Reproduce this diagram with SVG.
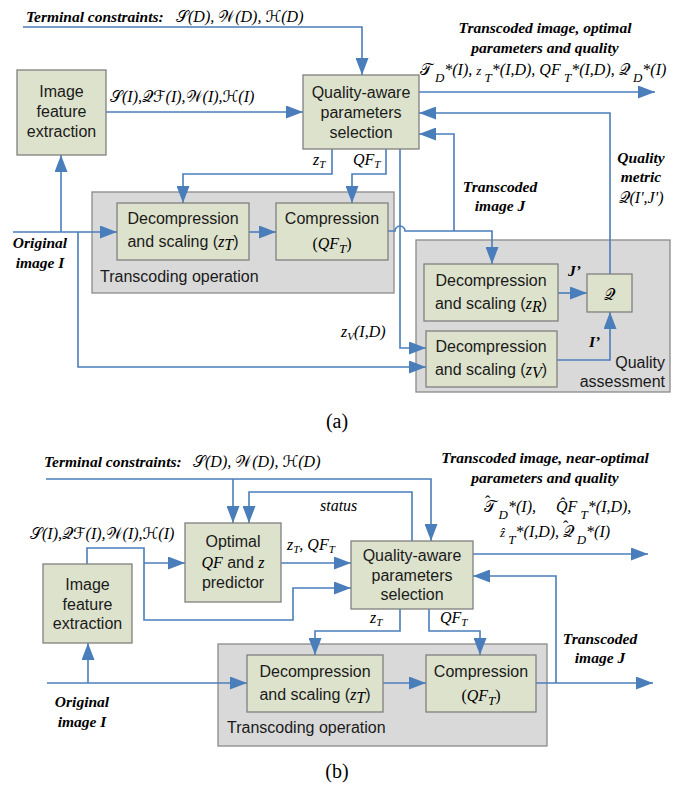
<svg xmlns="http://www.w3.org/2000/svg" width="683" height="787" viewBox="0 0 683 787">
<defs>
<style>
.box{fill:#dde2cc;stroke:#808080;stroke-width:1.3}
.grp{fill:#d9d9d9;stroke:#8a8a8a;stroke-width:1.3}
.ln{fill:none;stroke:#4a7ebb;stroke-width:1.6}
.ar{marker-end:url(#ah)}
.t{font-family:"Liberation Sans",Arial,sans-serif;font-size:16px;fill:#1a1a1a;text-anchor:middle}
.tl{font-family:"Liberation Sans",Arial,sans-serif;font-size:16px;fill:#1a1a1a}
.bi{font-family:"Liberation Serif","Times New Roman",serif;font-style:italic;font-weight:bold;font-size:15.5px;fill:#000}
.m{font-family:"Liberation Serif","Times New Roman",serif;font-style:italic;font-size:16px;fill:#000}
.c{font-family:"DejaVu Serif","DejaVu Sans","Noto Sans",serif;font-style:normal}
.r{font-style:normal}
.cap{font-family:"Liberation Serif","Times New Roman",serif;font-size:20px;fill:#000;text-anchor:middle}
</style>
<marker id="ah" markerWidth="17" markerHeight="13" refX="17" refY="6.5" orient="auto" markerUnits="userSpaceOnUse">
<path d="M0,0 L17,6.5 L0,13 z" fill="#4a7ebb"/>
</marker>
</defs>

<!-- ============ (a) ============ -->
<g id="a-transcoding-group">
<rect class="grp" x="92" y="192" width="302" height="101"/>
<text class="tl" x="100" y="282">Transcoding operation</text>
</g>
<g id="a-quality-group">
<rect class="grp" x="416" y="240" width="254" height="152"/>
<text class="tl" x="665" y="368" text-anchor="end">Quality</text>
<text class="tl" x="665" y="387" text-anchor="end">assessment</text>
</g>

<g id="a-connectors">
<path class="ln ar" d="M23,27 H362 V75"/>
<path class="ln ar" d="M106,112 H303"/>
<path class="ln ar" d="M419,92 H655"/>
<path class="ln ar" d="M610,274 V113 H419"/>
<path class="ln ar" d="M388,231 H395 A5,5 0 0 1 405,231 H492 V264"/>
<path class="ln ar" d="M454,231 V134 H419"/>
<path class="ln ar" d="M332,149 V174 H183 V203"/>
<path class="ln ar" d="M386,149 V174 H352 V203"/>
<path class="ln ar" d="M400,149 V348 H426"/>
<path class="ln ar" d="M13,232 H117"/>
<path class="ln ar" d="M61,232 V155"/>
<path class="ln ar" d="M78,232 V367 H426"/>
<path class="ln ar" d="M249,232 H276"/>
<path class="ln ar" d="M558,293 H587"/>
<path class="ln ar" d="M557,360 H610 V312"/>
</g>

<g id="a-feature">
<rect class="box" x="17" y="70" width="89" height="85"/>
<text class="t" x="61.5" y="97">Image</text>
<text class="t" x="61.5" y="117">feature</text>
<text class="t" x="61.5" y="137">extraction</text>
</g>
<g id="a-qaps">
<rect class="box" x="303" y="75" width="116" height="74"/>
<text class="t" x="361" y="98">Quality-aware</text>
<text class="t" x="361" y="118">parameters</text>
<text class="t" x="361" y="138">selection</text>
</g>
<g id="a-decomp">
<rect class="box" x="117" y="203" width="132" height="57"/>
<text class="t" x="183" y="224">Decompression</text>
<text class="t" x="183" y="247">and scaling (<tspan class="m">z</tspan><tspan class="m" font-size="11" dy="3">T</tspan><tspan dy="-3">)</tspan></text>
</g>
<g id="a-comp">
<rect class="box" x="276" y="203" width="112" height="57"/>
<text class="t" x="332" y="224">Compression</text>
<text class="m" x="332" y="249" font-size="21" text-anchor="middle"><tspan class="r">(</tspan>QF<tspan font-size="13" dy="4">T</tspan><tspan class="r" dy="-4">)</tspan></text>
</g>
<g id="a-decomp-r">
<rect class="box" x="424" y="264" width="134" height="57"/>
<text class="t" x="491" y="286">Decompression</text>
<text class="t" x="491" y="309">and scaling (<tspan class="m">z</tspan><tspan class="m" font-size="11" dy="3">R</tspan><tspan dy="-3">)</tspan></text>
</g>
<g id="a-decomp-v">
<rect class="box" x="426" y="331" width="131" height="56"/>
<text class="t" x="491" y="352">Decompression</text>
<text class="t" x="491" y="375">and scaling (<tspan class="m">z</tspan><tspan class="m" font-size="11" dy="3">V</tspan><tspan dy="-3">)</tspan></text>
</g>
<g id="a-q">
<rect class="box" x="587" y="274" width="45" height="38"/>
<text class="m" x="609.5" y="300" font-size="21" text-anchor="middle"><tspan class="c">𝒬</tspan></text>
</g>

<g id="a-labels">
<text class="bi" x="26" y="22">Terminal constraints:</text>
<text class="m" x="176" y="22"><tspan class="c">𝒮</tspan>(D), <tspan class="c">𝒲</tspan>(D), <tspan class="c">ℋ</tspan>(D)</text>
<text class="m" x="110" y="102"><tspan class="c">𝒮</tspan>(I),<tspan class="c">𝒬ℱ</tspan>(I),<tspan class="c">𝒲</tspan>(I),<tspan class="c">ℋ</tspan>(I)</text>
<text class="bi" x="545" y="33" text-anchor="middle">Transcoded image, optimal</text>
<text class="bi" x="545" y="53" text-anchor="middle">parameters and quality</text>
<text class="m" x="543" y="75" text-anchor="middle"><tspan class="c">𝒯</tspan><tspan dy="7" font-size="13"> D</tspan><tspan dy="-7">*(I), </tspan><tspan font-size="13">z</tspan><tspan dy="7" font-size="13"> T</tspan><tspan dy="-7">*(I,D), QF</tspan><tspan dy="7" font-size="13"> T</tspan><tspan dy="-7">*(I,D), </tspan><tspan class="c">𝒬</tspan><tspan dy="7" font-size="13"> D</tspan><tspan dy="-7">*(I)</tspan></text>
<text class="bi" x="641" y="163" text-anchor="middle">Quality</text>
<text class="bi" x="641" y="182" text-anchor="middle">metric</text>
<text class="m" x="641" y="203" text-anchor="middle"><tspan class="c">𝒬</tspan>(I',J')</text>
<text class="bi" x="500" y="192" text-anchor="middle">Transcoded</text>
<text class="bi" x="500" y="211" text-anchor="middle">image J</text>
<text class="m" x="313" y="165">z<tspan font-size="11" dy="3">T</tspan></text>
<text class="m" x="353" y="165">QF<tspan font-size="11" dy="3">T</tspan></text>
<text class="m" x="341" y="337">z<tspan font-size="11" dy="3">V</tspan><tspan dy="-3">(I,D)</tspan></text>
<text class="bi" x="40" y="248" text-anchor="middle">Original</text>
<text class="bi" x="40" y="268" text-anchor="middle">image I</text>
<text class="bi" x="568" y="276">J’</text>
<text class="bi" x="589" y="347">I’</text>
<text class="cap" x="337" y="428">(a)</text>
</g>

<!-- ============ (b) ============ -->
<g id="b-transcoding-group">
<rect class="grp" x="218" y="644" width="329" height="102"/>
<text class="tl" x="227" y="733">Transcoding operation</text>
</g>

<g id="b-connectors">
<path class="ln ar" d="M46,479 H431 V541"/>
<path class="ln ar" d="M233,479 V523"/>
<path class="ln ar" d="M412,541 V492 H249 V523"/>
<path class="ln ar" d="M87,564 V548 H144 V620 H293 V588 H351"/>
<path class="ln ar" d="M144,563 H185"/>
<path class="ln ar" d="M281,563 H351"/>
<path class="ln ar" d="M473,554 H648"/>
<path class="ln ar" d="M556,683 V576 H473"/>
<path class="ln ar" d="M400,609 V631 H315 V655"/>
<path class="ln ar" d="M429,609 V631 H480 V655"/>
<path class="ln ar" d="M47,683 H247"/>
<path class="ln ar" d="M88,683 V643"/>
<path class="ln ar" d="M383,683 H426"/>
<path class="ln ar" d="M536,683 H653"/>
</g>

<g id="b-optimal">
<rect class="box" x="185" y="523" width="96" height="79"/>
<text class="t" x="233" y="547">Optimal</text>
<text class="t" x="233" y="568"><tspan class="m">QF</tspan> and <tspan class="m">z</tspan></text>
<text class="t" x="233" y="588">predictor</text>
</g>
<g id="b-feature">
<rect class="box" x="43" y="564" width="89" height="79"/>
<text class="t" x="87.5" y="590">Image</text>
<text class="t" x="87.5" y="610">feature</text>
<text class="t" x="87.5" y="629">extraction</text>
</g>
<g id="b-qaps">
<rect class="box" x="351" y="541" width="122" height="68"/>
<text class="t" x="412" y="561">Quality-aware</text>
<text class="t" x="412" y="581">parameters</text>
<text class="t" x="412" y="600">selection</text>
</g>
<g id="b-decomp">
<rect class="box" x="247" y="655" width="136" height="57"/>
<text class="t" x="315" y="677">Decompression</text>
<text class="t" x="315" y="700">and scaling (<tspan class="m">z</tspan><tspan class="m" font-size="11" dy="3">T</tspan><tspan dy="-3">)</tspan></text>
</g>
<g id="b-comp">
<rect class="box" x="426" y="655" width="110" height="57"/>
<text class="t" x="481" y="677">Compression</text>
<text class="m" x="481" y="701" font-size="21" text-anchor="middle"><tspan class="r">(</tspan>QF<tspan font-size="13" dy="4">T</tspan><tspan class="r" dy="-4">)</tspan></text>
</g>

<g id="b-labels">
<text class="bi" x="44" y="467">Terminal constraints:</text>
<text class="m" x="193" y="467"><tspan class="c">𝒮</tspan>(D), <tspan class="c">𝒲</tspan>(D), <tspan class="c">ℋ</tspan>(D)</text>
<text class="m" x="320" y="511" font-size="17">status</text>
<text class="m" x="30" y="539"><tspan class="c">𝒮</tspan>(I),<tspan class="c">𝒬ℱ</tspan>(I),<tspan class="c">𝒲</tspan>(I),<tspan class="c">ℋ</tspan>(I)</text>
<text class="m" x="287" y="550">z<tspan font-size="11" dy="3">T</tspan><tspan dy="-3">,  QF</tspan><tspan font-size="11" dy="3">T</tspan></text>
<text class="bi" x="545" y="463" text-anchor="middle">Transcoded image, near-optimal</text>
<text class="bi" x="545" y="483" text-anchor="middle">parameters and quality</text>
<text class="m" x="484" y="512"><tspan class="c">𝒯</tspan><tspan class="r" dx="-11" dy="-5">ˆ</tspan><tspan dx="5" dy="12" font-size="13"> D</tspan><tspan dy="-7">*(I),</tspan></text>
<text class="m" x="556" y="512">Q&#x302;F<tspan dy="7" font-size="13"> T</tspan><tspan dy="-7">*(I,D),</tspan></text>
<text class="m" x="500" y="537"><tspan font-size="13">z&#x302;</tspan><tspan dy="7" font-size="13"> T</tspan><tspan dy="-7">*(I,D), </tspan><tspan class="c">𝒬</tspan><tspan class="r" dx="-11" dy="-5">ˆ</tspan><tspan dx="5" dy="12" font-size="13"> D</tspan><tspan dy="-7">*(I)</tspan></text>
<text class="m" x="370" y="623">z<tspan font-size="11" dy="3">T</tspan></text>
<text class="m" x="440" y="623">QF<tspan font-size="11" dy="3">T</tspan></text>
<text class="bi" x="600" y="644" text-anchor="middle">Transcoded</text>
<text class="bi" x="600" y="663" text-anchor="middle">image J</text>
<text class="bi" x="82" y="707" text-anchor="middle">Original</text>
<text class="bi" x="82" y="727" text-anchor="middle">image I</text>
<text class="cap" x="337" y="778">(b)</text>
</g>
</svg>
